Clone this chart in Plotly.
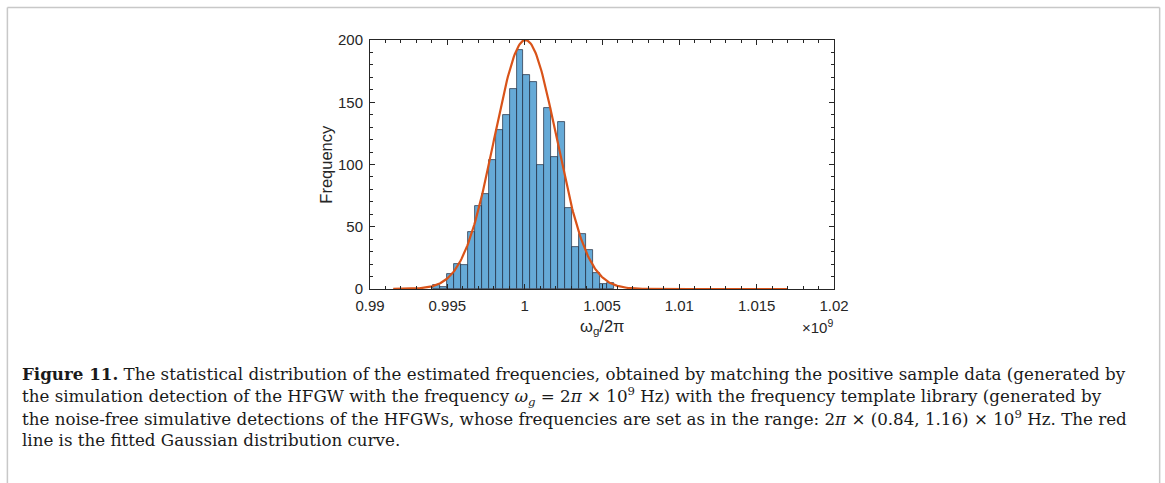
import numpy as np
import plotly.graph_objects as go

# ---- data ----
bin_first_edge = 0.99410      # x-units (×1e9)
bin_width = 0.000448
counts = [3, 2, 12, 20, 19, 46, 67, 76, 104, 128, 140, 161, 192,
          172, 166, 100, 145, 106, 134, 65, 34, 44, 31, 13, 4, 5]

# fitted Gaussian parameters
fit_mu = 1.00005
fit_sigma = 0.00201
fit_peak = 200.0
fit_x_min = 0.9915
fit_x_max = 1.0170

x_tickvals = [0.99, 0.995, 1.0, 1.005, 1.01, 1.015, 1.02]
x_ticktext = ["0.99", "0.995", "1", "1.005", "1.01", "1.015", "1.02"]
y_tickvals = [0, 50, 100, 150, 200]

caption_lines = [
    "<b>Figure 11.</b> The statistical distribution of the estimated frequencies, obtained by matching the positive sample data (generated by",
    "the simulation detection of the HFGW with the frequency <i>ω<sub>g</sub></i> = 2<i>π</i> × 10<sup>9</sup> Hz) with the frequency template library (generated by",
    "the noise-free simulative detections of the HFGWs, whose frequencies are set as in the range: 2<i>π</i> × (0.84, 1.16) × 10<sup>9</sup> Hz. The red",
    "line is the fitted Gaussian distribution curve.",
]

# ---- derived ----
centers = bin_first_edge + bin_width * (np.arange(len(counts)) + 0.5)
xc = np.linspace(fit_x_min, fit_x_max, 400)
yc = fit_peak * np.exp(-0.5 * ((xc - fit_mu) / fit_sigma) ** 2)

W, H = 1165, 483
L, R = 369.5, 834.0
T, B = 40.0, 288.7

SANS = "Liberation Sans, Arial"
INK = "#262626"

fig = go.Figure()
fig.add_trace(go.Bar(
    x=centers, y=counts, width=bin_width,
    marker=dict(color="rgb(102,170,215)",
                line=dict(color="rgba(25,35,55,0.85)", width=0.8)),
    showlegend=False, hoverinfo="x+y",
))
fig.add_trace(go.Scatter(
    x=xc, y=yc, mode="lines",
    line=dict(color="#D95319", width=2.2),
    showlegend=False,
))

axis_common = dict(
    showline=True, linecolor=INK, linewidth=1, mirror="ticks",
    ticks="inside", tickcolor=INK, ticklen=5, tickwidth=1,
    showgrid=False, zeroline=False,
    tickfont=dict(family=SANS, size=15, color=INK),
)

fig.update_xaxes(
    range=[0.99, 1.02], tickvals=x_tickvals, ticktext=x_ticktext,
    minor=dict(ticks="inside", ticklen=3, tickcolor=INK, dtick=0.001, tick0=0.99),
    ticklabelstandoff=3,
    **axis_common,
)
fig.update_yaxes(
    range=[0, 200], tickvals=y_tickvals,
    minor=dict(ticks="inside", ticklen=3, tickcolor=INK, dtick=10, tick0=0),
    ticklabelstandoff=3,
    **axis_common,
)

def px_to_paper(px, py):
    return (px - L) / (R - L), (B - py) / (B - T)

annotations = []
# x-axis title
ax_, ay_ = px_to_paper(601.5, 327)
annotations.append(dict(x=ax_, y=ay_, xref="paper", yref="paper", showarrow=False,
                        text="ω<sub>g</sub>/2π", xanchor="center", yanchor="middle",
                        font=dict(family=SANS, size=16.5, color=INK)))
# exponent label
ax_, ay_ = px_to_paper(835, 326)
annotations.append(dict(x=ax_, y=ay_, xref="paper", yref="paper", showarrow=False,
                        text="×10<sup>9</sup>", xanchor="right", yanchor="middle",
                        font=dict(family=SANS, size=15, color=INK)))
# y-axis title
ax_, ay_ = px_to_paper(326, 164)
annotations.append(dict(x=ax_, y=ay_, xref="paper", yref="paper", showarrow=False,
                        text="Frequency", textangle=-90, xanchor="center", yanchor="middle",
                        font=dict(family=SANS, size=16.5, color=INK)))
# caption
for i, line in enumerate(caption_lines):
    ax_, ay_ = px_to_paper(19, 374 + 22 * i)
    annotations.append(dict(x=ax_, y=ay_, xref="paper", yref="paper", showarrow=False,
                            text=line, xanchor="left", yanchor="middle", align="left",
                            font=dict(family="DejaVu Serif", size=16.7, color="#1a1a1a")))

# frame around figure (top, left, right)
shapes = []
x0p, y0p = px_to_paper(6.5, 7.5)
x1p, y1p = px_to_paper(1160, 483)
frame = dict(type="line", xref="paper", yref="paper", line=dict(color="#c8c8c8", width=1.5))
shapes.append(dict(frame, x0=x0p, y0=y0p, x1=x1p, y1=y0p))
shapes.append(dict(frame, x0=x0p, y0=y0p, x1=x0p, y1=y1p))
shapes.append(dict(frame, x0=x1p, y0=y0p, x1=x1p, y1=y1p))

fig.update_layout(
    width=W, height=H,
    margin=dict(l=L, r=W - R, t=T, b=H - B, autoexpand=False),
    paper_bgcolor="white", plot_bgcolor="white",
    bargap=0, annotations=annotations, shapes=shapes,
)

fig.write_html("out.html")
